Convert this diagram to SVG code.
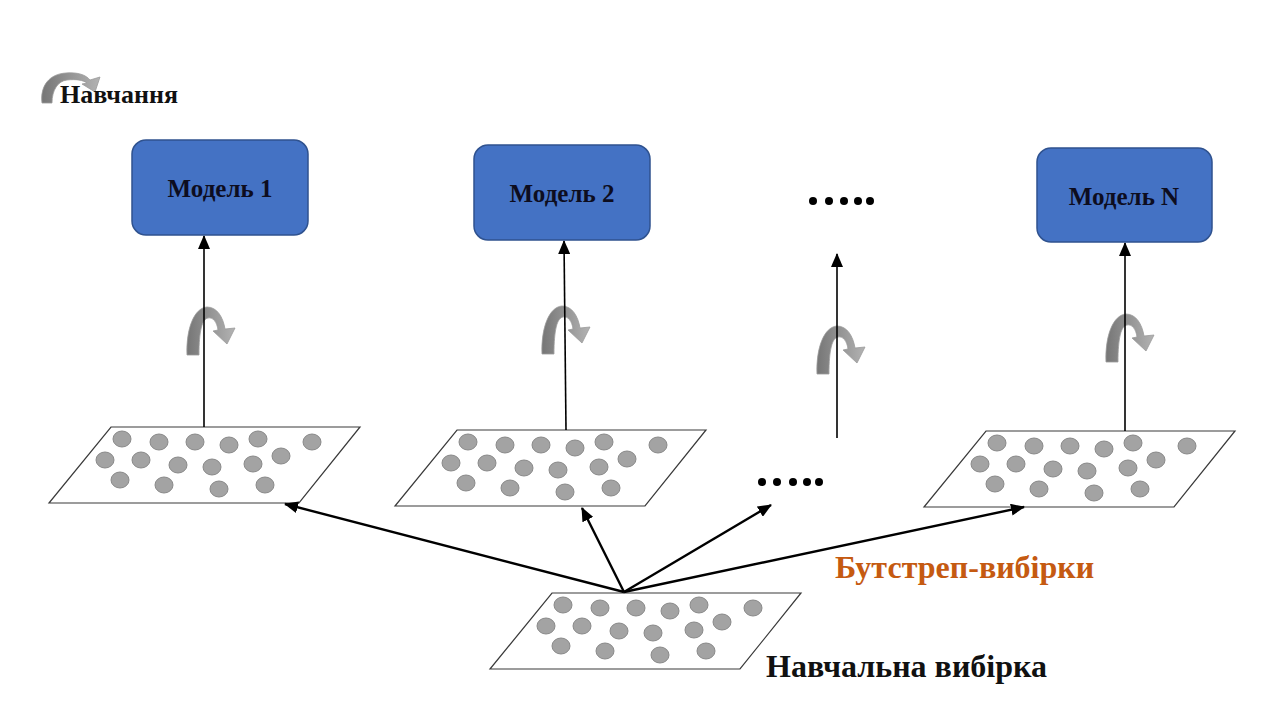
<svg xmlns="http://www.w3.org/2000/svg" xmlns:xlink="http://www.w3.org/1999/xlink" width="1280" height="720" viewBox="0 0 1280 720">
<style>
.box{fill:#4472C4;stroke:#2F528F;stroke-width:1.5}
.btxt{font-family:"Liberation Serif","Times New Roman",serif;font-weight:bold;font-size:25px;fill:#0d0d1f;text-anchor:middle}
.par{fill:#fff;stroke:#3a3a3a;stroke-width:1.2}
.dot{fill:#a3a3a3;stroke:#8a8a8a;stroke-width:1}
.vl{stroke:#000;stroke-width:1.6;fill:none}
.dl{stroke:#000;stroke-width:2.4;fill:none}
.lbl{font-family:"Liberation Serif","Times New Roman",serif;font-weight:bold;font-size:32px}
.ell{fill:#000}
</style>
<defs>
<linearGradient id="gi" x1="0" y1="0" x2="1" y2="0">
<stop offset="0" stop-color="#767676"/>
<stop offset="1" stop-color="#b3b3b3"/>
</linearGradient>
<marker id="ah" markerUnits="userSpaceOnUse" markerWidth="14" markerHeight="12" refX="13" refY="6" orient="auto">
<path d="M0,0 L14,6 L0,12 z" fill="#000"/>
</marker>
<g id="rot">
<path d="M0,48 C-1,22 7,1 20,0 C30,0 36,10 38,22 L48,21 L40,37 L26,24 L31,23 C30,15 26,10 21,11 C15,12 12,24 12,48 Z" fill="url(#gi)" stroke="#9a9a9a" stroke-width="0.8"/>
</g>
<g id="samp">
<path class="par" d="M0,0 L249,0 L188,76 L-62,76 Z"/>
<ellipse class="dot" cx="11" cy="12" rx="9" ry="8"/>
<ellipse class="dot" cx="48" cy="15" rx="9" ry="8"/>
<ellipse class="dot" cx="84" cy="15" rx="9" ry="8"/>
<ellipse class="dot" cx="118" cy="18" rx="9" ry="8"/>
<ellipse class="dot" cx="147" cy="12" rx="9" ry="8"/>
<ellipse class="dot" cx="201" cy="15" rx="9" ry="8"/>
<ellipse class="dot" cx="-6" cy="33" rx="9" ry="8"/>
<ellipse class="dot" cx="30" cy="33" rx="9" ry="8"/>
<ellipse class="dot" cx="67" cy="38" rx="9" ry="8"/>
<ellipse class="dot" cx="101" cy="40" rx="9" ry="8"/>
<ellipse class="dot" cx="142" cy="37" rx="9" ry="8"/>
<ellipse class="dot" cx="170" cy="29" rx="9" ry="8"/>
<ellipse class="dot" cx="9" cy="53" rx="9" ry="8"/>
<ellipse class="dot" cx="53" cy="58" rx="9" ry="8"/>
<ellipse class="dot" cx="108" cy="62" rx="9" ry="8"/>
<ellipse class="dot" cx="154" cy="58" rx="9" ry="8"/>
</g>
</defs>
<rect width="1280" height="720" fill="#fff"/>

<g id="legend">
<path d="M42,103 C40,86 49,74 66,73 C78,72 86,75 90,80 L100,77 L95,92 L82,84 L87,83 C83,80 76,79 67,80 C58,81 52,90 52,103 Z" fill="url(#gi)" stroke="#9a9a9a" stroke-width="0.8"/>
<text class="lbl" x="60" y="103" style="font-size:26px" fill="#111">Навчання</text>
</g>

<g id="rotations">
<use xlink:href="#rot" transform="translate(187,307)"/>
<use xlink:href="#rot" transform="translate(542,306)"/>
<use xlink:href="#rot" transform="translate(817,326)"/>
<use xlink:href="#rot" transform="translate(1106,314)"/>
</g>

<g id="sample1"><use xlink:href="#samp" transform="translate(111,427)"/></g>
<g id="sample2"><use xlink:href="#samp" transform="translate(457,430)"/></g>
<g id="sampleN"><use xlink:href="#samp" transform="translate(986,431)"/></g>
<g id="training-sample"><use xlink:href="#samp" transform="translate(552,593)"/>
<text class="lbl" x="766" y="677" fill="#111">Навчальна вибірка</text>
</g>

<g id="connectors">
<line class="vl" x1="204" y1="427" x2="204" y2="236" marker-end="url(#ah)"/>
<line class="vl" x1="566" y1="430" x2="564" y2="241" marker-end="url(#ah)"/>
<line class="vl" x1="837" y1="438" x2="837" y2="254" marker-end="url(#ah)"/>
<line class="vl" x1="1125" y1="431" x2="1125" y2="243" marker-end="url(#ah)"/>
<line class="dl" x1="624" y1="592" x2="285" y2="504" marker-end="url(#ah)"/>
<line class="dl" x1="624" y1="592" x2="582" y2="508" marker-end="url(#ah)"/>
<line class="dl" x1="624" y1="592" x2="771" y2="505" marker-end="url(#ah)"/>
<line class="dl" x1="624" y1="592" x2="1024" y2="507" marker-end="url(#ah)"/>
</g>

<g id="model1">
<rect class="box" x="132" y="140" width="176" height="95" rx="14"/>
<text class="btxt" x="220" y="197">Модель 1</text>
</g>
<g id="model2">
<rect class="box" x="474" y="145" width="176" height="95" rx="14"/>
<text class="btxt" x="562" y="202">Модель 2</text>
</g>
<g id="modelN">
<rect class="box" x="1037" y="148" width="175" height="94" rx="14"/>
<text class="btxt" x="1124" y="205">Модель N</text>
</g>

<g id="ellipsis-top">
<circle class="ell" cx="813" cy="201" r="4"/>
<circle class="ell" cx="829" cy="201" r="4"/>
<circle class="ell" cx="844" cy="201" r="4"/>
<circle class="ell" cx="858" cy="201" r="4"/>
<circle class="ell" cx="870" cy="201" r="4"/>
</g>
<g id="ellipsis-bottom">
<circle class="ell" cx="762" cy="482" r="4"/>
<circle class="ell" cx="777" cy="482" r="4"/>
<circle class="ell" cx="793" cy="482" r="4"/>
<circle class="ell" cx="807" cy="482" r="4"/>
<circle class="ell" cx="819" cy="482" r="4"/>
</g>

<g id="bootstrap-label">
<text class="lbl" x="835" y="578" fill="#C55A11">Бутстреп-вибірки</text>
</g>
</svg>
